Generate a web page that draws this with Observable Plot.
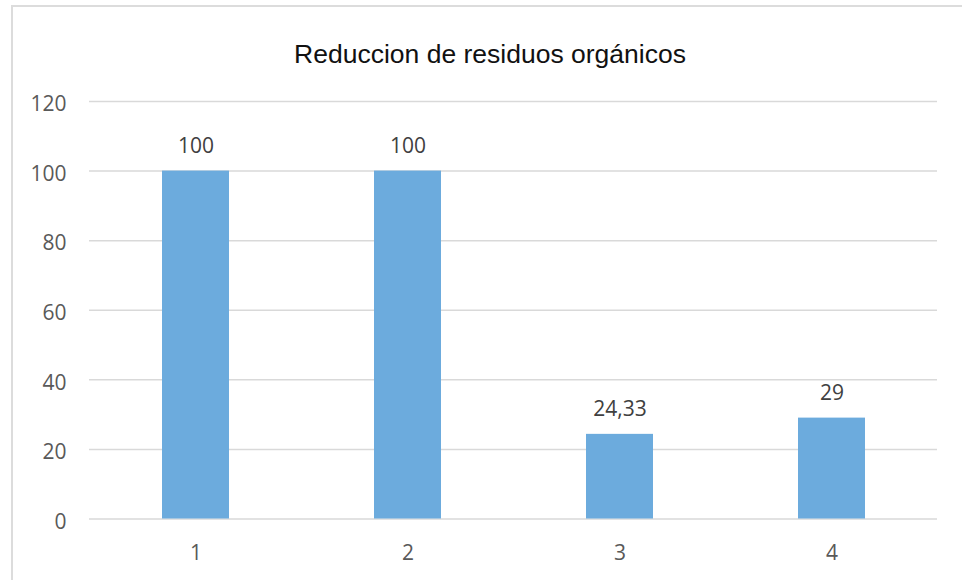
<!DOCTYPE html>
<html>
<head>
<meta charset="utf-8">
<script src="https://cdn.jsdelivr.net/npm/d3@7"></script>
<script src="https://cdn.jsdelivr.net/npm/@observablehq/plot@0.6"></script>
<style>
  html, body { margin: 0; padding: 0; background: #fff; width: 962px; height: 580px; overflow: hidden; }
  #frame { position: absolute; left: 11px; top: 5px; width: 960px; height: 600px; border: 2px solid #dcdcdc; box-sizing: border-box; }
  #title { position: absolute; left: 11px; width: 958px; top: 38px; text-align: center; font-family: "Liberation Sans", Arial, sans-serif; font-size: 26.5px; color: #111; line-height: 32px; }
  #chart { position: absolute; left: 0; top: 0; }
</style>
</head>
<body>
<div id="frame"></div>
<div id="chart"></div>
<div id="title">Reduccion de residuos orgánicos</div>
<script>
const categories = ["1", "2", "3", "4"];
const values = [100, 100, 24.33, 29];
const yTicks = [0, 20, 40, 60, 80, 100, 120];

const data = categories.map((c, i) => ({ cat: c, value: values[i], label: String(values[i]).replace(".", ",") }));

const plot = Plot.plot({
  width: 962,
  height: 580,
  marginLeft: 89,
  marginRight: 25,
  marginTop: 101,
  marginBottom: 61.5,
  style: { fontFamily: "'Open Sans', sans-serif", fontSize: "21px", background: "transparent", color: "#595959" },
  x: { domain: categories, paddingInner: 0.686, paddingOuter: 0.343, label: null, tickSize: 0, tickPadding: 26 },
  y: { domain: [0, 120], ticks: yTicks, label: null, tickSize: 0, tickPadding: 23 },
  marks: [
    Plot.gridY(yTicks, { stroke: "#d9d9d9", strokeOpacity: 1, strokeWidth: 1.5 }),
    Plot.barY(data, { x: "cat", y: "value", fill: "#6cabdd" }),
    Plot.text(data, { x: "cat", y: "value", text: "label", lineAnchor: "bottom", dy: -18, fill: "#404040", fontSize: 21 }),
    Plot.axisY({ ticks: yTicks, tickSize: 0, tickPadding: 23, dy: 3, fill: "#595959", fontSize: 21 }),
    Plot.axisX({ tickSize: 0, tickPadding: 26, fill: "#595959", fontSize: 21 })
  ]
});
document.getElementById("chart").appendChild(plot);
</script>
</body>
</html>
